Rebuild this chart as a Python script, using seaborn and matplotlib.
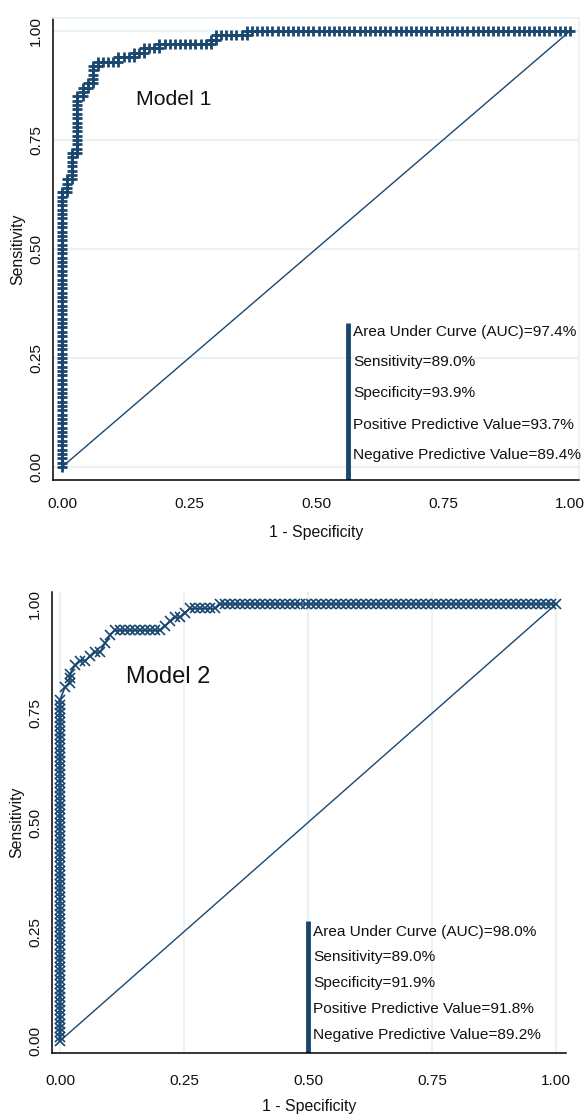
import numpy as np
import pandas as pd
import matplotlib
matplotlib.use('Agg')
import matplotlib.pyplot as plt
from matplotlib import font_manager
import seaborn as sns

NAVY = '#1a476f'
GRID = '#eaf2f3'

# 99 negatives, 100 positives (from the reported sens/spec/ppv/npv)
n_neg = 99
n_pos = 100

# ROC corner points, in counts (false pos, true pos)
m1_fp = [0, 0, 1, 1, 2, 2, 3, 3, 4, 4, 5, 5, 6, 6, 7, 7, 11, 11, 14, 14,
         16, 16, 19, 19, 29, 29, 30, 30, 36, 36, 99]
m1_tp = [0, 63, 63, 66, 66, 72, 72, 85, 85, 87, 87, 88, 88, 92, 92, 93, 93, 94, 94, 95,
         95, 96, 96, 97, 97, 98, 98, 99, 99, 100, 100]

m2_fp = [0, 0, 1, 2, 2, 3, 4, 5, 6, 7, 8, 9, 10, 11, 20, 21, 22, 23, 24, 25, 26, 31, 32, 99]
m2_tp = [0, 78, 81, 82, 84, 86, 87, 87, 88, 89, 89, 91, 93, 94, 94, 95, 96, 97, 97, 98, 99, 99, 100, 100]

ticks = [0, 0.25, 0.5, 0.75, 1]
tick_labels = ['0.00', '0.25', '0.50', '0.75', '1.00']

m1_stats = ['Area Under Curve (AUC)=97.4%', 'Sensitivity=89.0%', 'Specificity=93.9%',
            'Positive Predictive Value=93.7%', 'Negative Predictive Value=89.4%']
m2_stats = ['Area Under Curve (AUC)=98.0%', 'Sensitivity=89.0%', 'Specificity=91.9%',
            'Positive Predictive Value=91.8%', 'Negative Predictive Value=89.2%']


def roc_points(fp, tp):
    # one point per observation along the straight runs, ties stay one step
    xs, ys = [fp[0]], [tp[0]]
    for i in range(1, len(fp)):
        x0, y0, x1, y1 = fp[i - 1], tp[i - 1], fp[i], tp[i]
        if x0 == x1:
            for y in range(y0 + 1, y1 + 1):
                xs.append(x1)
                ys.append(y)
        elif y0 == y1:
            for x in range(x0 + 1, x1 + 1):
                xs.append(x)
                ys.append(y1)
        else:
            xs.append(x1)
            ys.append(y1)
    return pd.DataFrame({'fpr': np.array(xs) / n_neg, 'tpr': np.array(ys) / n_pos})


sns.set_style('white')

# the original uses a narrow Arial; fall back to Liberation Sans, a bit smaller
installed = {f.name for f in font_manager.fontManager.ttflist}
if 'Liberation Sans Narrow' in installed:
    plt.rcParams['font.family'] = ['Liberation Sans Narrow', 'DejaVu Sans']
    scale = 1.0
else:
    plt.rcParams['font.family'] = ['Liberation Sans', 'DejaVu Sans']
    scale = 0.85

fig = plt.figure(figsize=(5.85, 11.15), dpi=100)


def draw_panel(rect, xlim, ylim, roc, marker, ms, mew, stats, bar_x, text_x, text_y,
               bar_top, label, label_xy, label_size, grid_axis, frame_color,
               xpad, xlabelpad):
    ax = fig.add_axes(rect)
    ax.set_xlim(*xlim)
    ax.set_ylim(*ylim)
    for t in ticks:
        if grid_axis == 'y':
            ax.axhline(t, color=GRID, lw=1.6, zorder=0)
        else:
            ax.axvline(t, color=GRID, lw=1.6, zorder=0)
    sns.lineplot(x=[0, 1], y=[0, 1], color=NAVY, lw=1.0, ax=ax)
    sns.lineplot(data=roc, x='fpr', y='tpr', sort=False, estimator=None, color=NAVY,
                 lw=1.2, marker=marker, markersize=ms, markeredgewidth=mew,
                 markeredgecolor=NAVY, ax=ax)
    ax.set_xticks(ticks)
    ax.set_xticklabels(tick_labels)
    ax.set_yticks(ticks)
    ax.set_yticklabels(tick_labels, rotation=90, va='center')
    ax.tick_params(axis='both', direction='out', length=5, width=1, color='black',
                   labelsize=13 * scale, labelcolor='#111111')
    ax.tick_params(axis='x', pad=xpad)
    ax.tick_params(axis='y', pad=2)
    ax.set_xlabel('1 - Specificity', fontsize=13.5 * scale, labelpad=xlabelpad,
                  color='#111111')
    ax.set_ylabel('Sensitivity', fontsize=13.5 * scale, labelpad=3, color='#111111')
    for s in ['left', 'bottom']:
        ax.spines[s].set_color('black')
        ax.spines[s].set_linewidth(1.1)
    for s in ['top', 'right']:
        if frame_color is None:
            ax.spines[s].set_visible(False)
        else:
            ax.spines[s].set_color(frame_color)
            ax.spines[s].set_linewidth(1.2)
    # legend-like note with a thick bar on its left
    ax.plot([bar_x, bar_x], [ylim[0], bar_top], color=NAVY, lw=3.5, solid_capstyle='butt')
    for s, y in zip(stats, text_y):
        ax.text(text_x, y, s, fontsize=13 * scale, ha='left', va='center', color='#111111')
    ax.text(label_xy[0], label_xy[1], label, fontsize=label_size * scale, ha='center',
            va='center', color='#111111')
    return ax


draw_panel([53 / 585, 1 - 480 / 1115, 526 / 585, 462 / 1115],
           (-0.0177, 1.0177), (-0.0298, 1.0298),
           roc_points(m1_fp, m1_tp), '+', 7, 2.0, m1_stats,
           0.563, 0.573, [0.310, 0.241, 0.170, 0.096, 0.028], 0.33,
           'Model 1', (0.22, 0.842), 18, 'y', GRID, 7, 10)

draw_panel([52 / 585, 62 / 1115, 514 / 585, 461 / 1115],
           (-0.016, 1.02), (-0.0275, 1.0275),
           roc_points(m2_fp, m2_tp), 'x', 7, 1.2, m2_stats,
           0.5, 0.51, [0.249, 0.192, 0.133, 0.073, 0.014], 0.275,
           'Model 2', (0.218, 0.833), 20, 'x', None, 10, 8)

fig.savefig('out.png', dpi=100)
